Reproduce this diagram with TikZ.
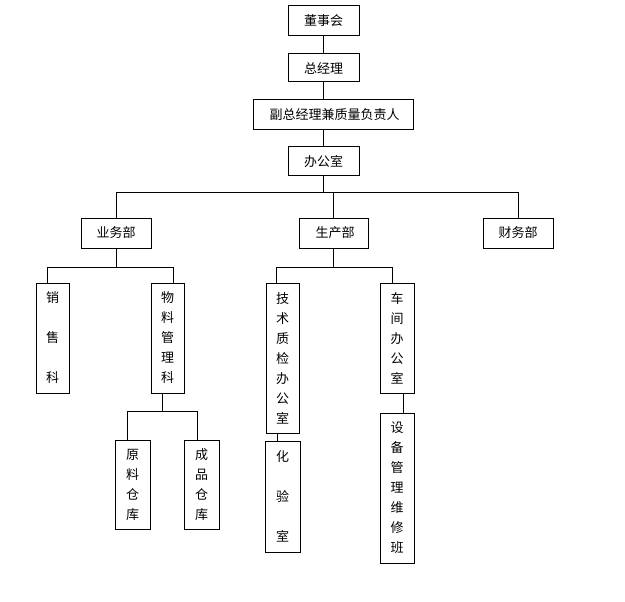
\documentclass[tikz,border=0pt]{standalone}
\usepackage{fontspec}
\setmainfont{Noto Sans CJK SC}
\usetikzlibrary{calc}
\begin{document}
\begin{tikzpicture}[x=1pt,y=-1pt,line width=1pt,
  box/.style={draw, inner sep=0pt, align=center, font=\fontsize{13}{20}\selectfont},
]
\useasboundingbox (0,0) rectangle (625,602);
% top chain
\node[box, minimum width=71, minimum height=30] (dsh) at (323.5,21) {董事会};
\node[box, minimum width=71, minimum height=28] (zjl) at (323.5,68) {总经理};
\node[box, minimum width=160, minimum height=30] (fzjl) at (333,115) {\hspace{3pt}副总经理兼质量负责人};
\node[box, minimum width=71, minimum height=29] (bgs) at (323.5,161.5) {办公室};
% departments
\node[box, minimum width=70, minimum height=30] (ywb) at (116,233) {业务部};
\node[box, minimum width=69, minimum height=30] (scb) at (333.5,233) {\hspace{3pt}生产部};
\node[box, minimum width=70, minimum height=30] (cwb) at (518,233) {财务部};
% sections
\node[box, minimum width=33, minimum height=110] (xsk) at (52.5,338) {销\\[20pt]售\\[20pt]科};
\node[box, minimum width=33, minimum height=110] (wlk) at (167.5,338) {物\\料\\管\\理\\科};
\node[box, minimum width=33, minimum height=150] (jszj) at (282.5,358) {技\\术\\质\\检\\办\\公\\室};
\node[box, minimum width=34, minimum height=110] (cjbgs) at (397,338) {车\\间\\办\\公\\室};
\node[box, minimum width=35, minimum height=89] (ylck) at (132.5,484.5) {原\\料\\仓\\库};
\node[box, minimum width=35, minimum height=89] (cpck) at (201.5,484.5) {成\\品\\仓\\库};
\node[box, minimum width=35, minimum height=111] (hys) at (282.5,496.5) {化\\[20pt]验\\[20pt]室};
\node[box, minimum width=34, minimum height=150] (sbwx) at (397,488) {设\\备\\管\\理\\维\\修\\班};
% bus levels
\coordinate (bus1) at (0,193);
\coordinate (bus2) at (0,267);
\coordinate (bus3) at (0,411);
% top chain connectors
\draw (dsh.south) -- (zjl.north);
\draw (zjl.south) -- (zjl.south |- fzjl.north);
\draw (fzjl.south -| bgs.north) -- (bgs.north);
\draw (bgs.south) -- (bgs.south |- bus1);
\draw (ywb.north) -- (ywb.north |- bus1) -- (cwb.north |- bus1) -- (cwb.north);
\draw (scb.north) -- (scb.north |- bus1);
% 业务部
\coordinate (xskin) at ([xshift=-5.5]xsk.north);
\coordinate (wlkin) at ([xshift=5.5]wlk.north);
\draw (ywb.south) -- (ywb.south |- bus2);
\draw (xskin) -- (xskin |- bus2) -- (wlkin |- bus2) -- (wlkin);
% 生产部
\coordinate (jszjin) at ([xshift=-6.5]jszj.north);
\coordinate (cjin) at ([xshift=-5]cjbgs.north);
\draw (scb.south) -- (scb.south |- bus2);
\draw (jszjin) -- (jszjin |- bus2) -- (cjin |- bus2) -- (cjin);
% 物料管理科
\coordinate (wlkout) at ([xshift=-5.5]wlk.south);
\coordinate (ylin) at ([xshift=-5.5]ylck.north);
\coordinate (cpin) at ([xshift=-4.5]cpck.north);
\draw (wlkout) -- (wlkout |- bus3);
\draw (ylin) -- (ylin |- bus3) -- (cpin |- bus3) -- (cpin);
% 技术质检 -> 化验室
\coordinate (jsout) at ([xshift=-5.5]jszj.south);
\draw (jsout) -- (jsout |- hys.north);
% 车间办公室 -> 设备管理维修班
\coordinate (cjout) at ([xshift=6]cjbgs.south);
\draw (cjout) -- (cjout |- sbwx.north);
\end{tikzpicture}
\end{document}
